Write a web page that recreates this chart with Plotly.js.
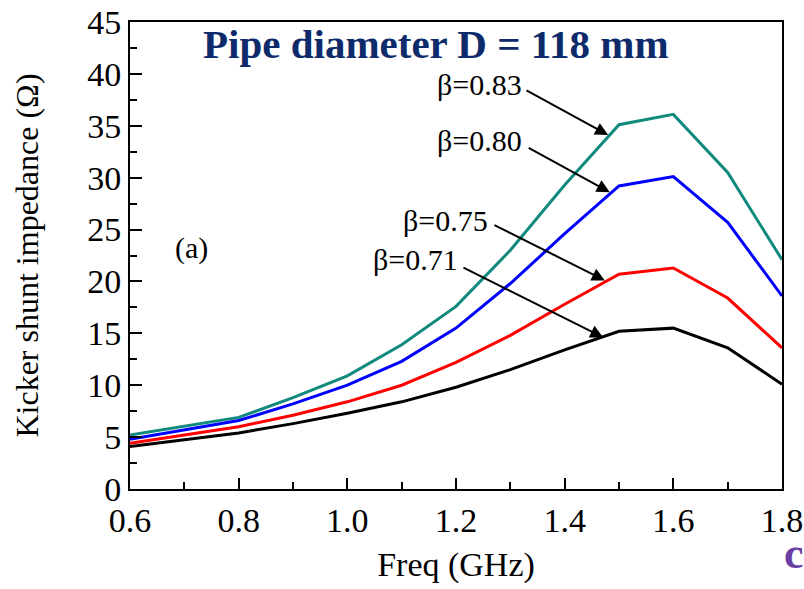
<!DOCTYPE html>
<html>
<head>
<meta charset="utf-8">
<script src="https://cdn.plot.ly/plotly-3.0.1.min.js"></script>
</head>
<body style="margin:0;background:#fff">
<div id="chart" style="width:804px;height:589px"></div>
<script>
const freq = [0.6, 0.8, 0.9, 1.0, 1.1, 1.2, 1.3, 1.4, 1.5, 1.6, 1.7, 1.8];
const beta083 = [5.2, 6.9, 8.8, 10.9, 13.9, 17.6, 23.0, 29.3, 35.1, 36.1, 30.5, 22.1];
const beta080 = [4.8, 6.6, 8.2, 10.0, 12.3, 15.5, 19.8, 24.6, 29.2, 30.1, 25.7, 18.6];
const beta075 = [4.4, 6.0, 7.1, 8.4, 10.0, 12.2, 14.8, 17.8, 20.7, 21.3, 18.4, 13.6];
const beta071 = [4.1, 5.4, 6.3, 7.3, 8.4, 9.8, 11.5, 13.4, 15.2, 15.5, 13.6, 10.1];
const seriesNames = ['β=0.83', 'β=0.80', 'β=0.75', 'β=0.71'];
const xTicks = [0.6, 0.8, 1.0, 1.2, 1.4, 1.6, 1.8];
const xTickText = ['0.6', '0.8', '1.0', '1.2', '1.4', '1.6', '1.8'];
const yTicks = [0, 5, 10, 15, 20, 25, 30, 35, 40, 45];

const colors = ['#118a7e', '#0000ff', '#ff0000', '#000000'];
const allSeries = [beta083, beta080, beta075, beta071];
const traces = allSeries.map((ys, i) => ({
  x: freq, y: ys, type: 'scatter', mode: 'lines', name: seriesNames[i],
  line: {color: colors[i], width: 3}, hoverinfo: 'x+y'
}));

const SERIF = 'Liberation Serif';
// label text positions and arrow (tail -> head) positions in data units
const labelPos = [[1.244, 39.0], [1.244, 33.6], [1.180, 25.9], [1.126, 22.1]];
const arrowTail = [[1.327, 38.5], [1.331, 32.95], [1.268, 25.5], [1.211, 21.4]];
const arrowHead = [[1.480, 34.1], [1.483, 28.6], [1.474, 20.1], [1.471, 14.6]];

const annotations = [];
seriesNames.forEach((n, i) => {
  annotations.push({x: labelPos[i][0], y: labelPos[i][1], xref: 'x', yref: 'y', text: n,
    showarrow: false, font: {family: SERIF, size: 30, color: '#000'}});
  annotations.push({x: arrowHead[i][0], y: arrowHead[i][1], xref: 'x', yref: 'y',
    ax: arrowTail[i][0], ay: arrowTail[i][1], axref: 'x', ayref: 'y', text: '',
    showarrow: true, arrowhead: 2, arrowsize: 1.3, arrowwidth: 2, arrowcolor: '#000'});
});
annotations.push({x: 0.714, y: 23.2, xref: 'x', yref: 'y', text: '(a)', showarrow: false,
  font: {family: SERIF, size: 30, color: '#000'}});
annotations.push({x: (794 - 130) / 652, y: (489 - 553) / 467, xref: 'paper', yref: 'paper', text: '<b>c</b>',
  showarrow: false, font: {family: SERIF, size: 44, color: '#6b3fa5'}, xanchor: 'center', yanchor: 'middle'});

const layout = {
  width: 804, height: 589,
  margin: {l: 130, r: 22, t: 22, b: 100},
  paper_bgcolor: '#ffffff', plot_bgcolor: '#ffffff',
  showlegend: false,
  title: {text: '<b>Pipe diameter D = 118 mm</b>', font: {family: SERIF, size: 41, color: '#0d2a6b'},
    xref: 'paper', x: 0.469, xanchor: 'center', yref: 'container', y: 1 - 44 / 589, yanchor: 'middle'},
  xaxis: {
    range: [0.6, 1.8], tickvals: xTicks, ticktext: xTickText,
    ticks: 'inside', ticklen: 11, tickwidth: 2, tickcolor: '#000',
    minor: {dtick: 0.1, ticks: 'inside', ticklen: 7, tickwidth: 2, tickcolor: '#000'},
    showline: true, linecolor: '#000', linewidth: 2, mirror: true,
    showgrid: false, zeroline: false,
    tickfont: {family: SERIF, size: 34, color: '#000'},
    title: {text: 'Freq (GHz)', font: {family: SERIF, size: 34, color: '#000'}, standoff: 14},
    automargin: false
  },
  yaxis: {
    range: [0, 45], tickvals: yTicks,
    ticks: 'inside', ticklen: 12, tickwidth: 2, tickcolor: '#000',
    minor: {dtick: 2.5, ticks: 'inside', ticklen: 7, tickwidth: 2, tickcolor: '#000'},
    showline: true, linecolor: '#000', linewidth: 2, mirror: true,
    showgrid: false, zeroline: false,
    tickfont: {family: SERIF, size: 34, color: '#000'},
    title: {text: 'Kicker shunt impedance (Ω)', font: {family: SERIF, size: 32, color: '#000'}, standoff: 39},
    automargin: false
  },
  annotations: annotations
};

Plotly.newPlot('chart', traces, layout, {displayModeBar: false});
</script>
</body>
</html>
